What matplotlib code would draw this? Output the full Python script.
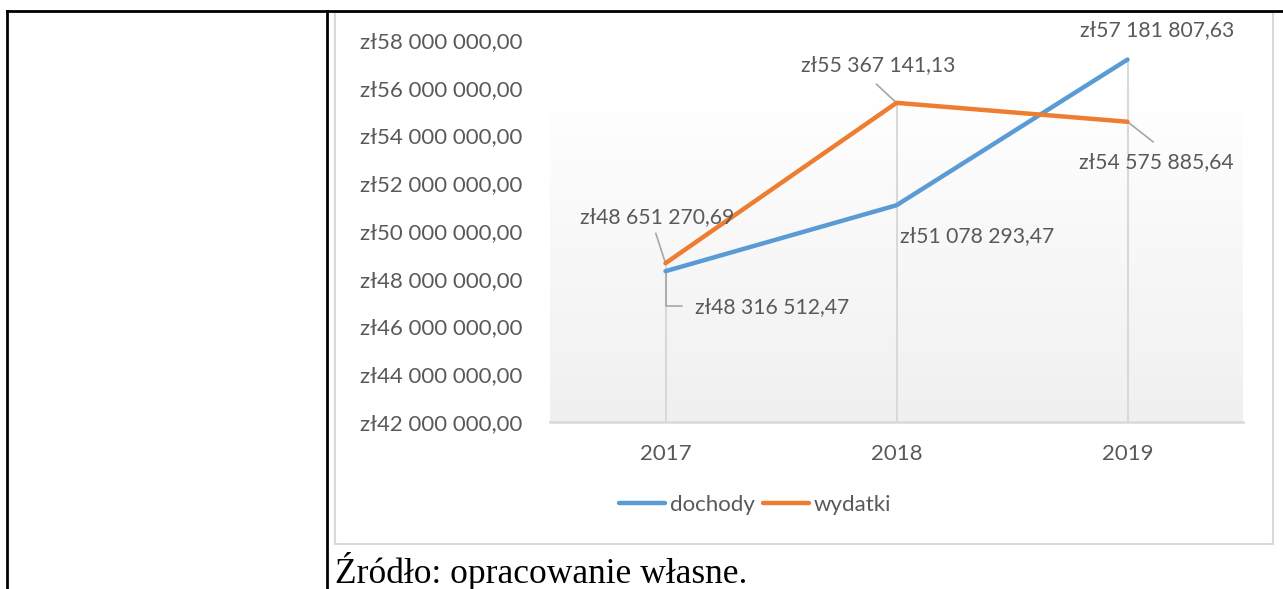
import numpy as np
import matplotlib.pyplot as plt
from matplotlib.patches import Rectangle
from matplotlib.lines import Line2D
from matplotlib.colors import LinearSegmentedColormap

# dane
lata = ['2017', '2018', '2019']
dochody = [48316512.47, 51078293.47, 57181807.63]
wydatki = [48651270.69, 55367141.13, 54575885.64]
yticks = np.arange(42000000, 58000001, 2000000)

W, H = 1283, 589
szary = '#595959'
niebieski = '#5B9BD5'
pomarancz = '#ED7D31'
fs = 16

plt.rcParams['font.family'] = ['Lato', 'DejaVu Sans']

def zl(v):
    s = '{:,.2f}'.format(v).replace(',', ' ').replace('.', ',')
    return 'zł' + s

fig = plt.figure(figsize=(W/100, H/100), dpi=100)

# ramki tabeli
def linia(x0, y0, x1, y1, **kw):
    fig.add_artist(Line2D([x0/W, x1/W], [1-y0/H, 1-y1/H], transform=fig.transFigure, **kw))

linia(7, 11, W, 11, color='black', lw=2)
linia(7, 11, 7, H, color='black', lw=2)
linia(327, 11, 327, H, color='black', lw=2)

# ramka wykresu
fig.add_artist(Rectangle((335/W, 1-544/H), (1273-335)/W, (544-12)/H,
                         transform=fig.transFigure, fill=False,
                         edgecolor='#D9D9D9', lw=1.5))

ax = fig.add_axes([550/W, 1-422/H, (1243-550)/W, (422-40)/H])
ax.patch.set_alpha(0)
x = np.arange(len(lata))
ax.set_xlim(-0.5, 2.5)
ax.set_ylim(yticks[0], yticks[-1])

# gradient tla
top_grad = yticks[0] + (422-91)/(422-40)*(yticks[-1]-yticks[0])
grad = np.linspace(0, 1, 256).reshape(-1, 1)
cmap = LinearSegmentedColormap.from_list('g', ['#FFFFFF', '#F0F0F0'])
ax.imshow(grad, cmap=cmap, extent=[-0.5, 2.5, yticks[0], top_grad],
          origin='upper', aspect='auto', zorder=0)

# linie pionowe
for i in x:
    ax.vlines(i, yticks[0], max(dochody[i], wydatki[i]), color='#D9D9D9', lw=1.5, zorder=1)

ax.plot(x, dochody, color=niebieski, lw=3.2, label='dochody', zorder=3, solid_capstyle='round')
ax.plot(x, wydatki, color=pomarancz, lw=3.2, label='wydatki', zorder=3, solid_capstyle='round')

for s in ['top', 'right', 'left']:
    ax.spines[s].set_visible(False)
ax.spines['bottom'].set_color('#D9D9D9')
ax.spines['bottom'].set_linewidth(1.8)
ax.spines['bottom'].set_zorder(2)

ax.set_xticks(x)
ax.set_xticklabels(lata)
ax.set_yticks(yticks)
ax.set_yticklabels([zl(v) for v in yticks])
ax.tick_params(axis='y', length=0, pad=20, labelsize=fs, labelcolor=szary)
ax.tick_params(axis='x', length=0, pad=16, labelsize=fs, labelcolor=szary)

# etykiety danych: (indeks, wartosc, przesuniecie tekstu, koniec linii odniesienia)
opis = [
    (0, dochody[0], (77, -26), (12, -25)),
    (0, wydatki[0], (-6, 33), (-7, 21.5)),
    (1, dochody[1], (58, -22), None),
    (1, wydatki[1], (-13, 27), (-14.5, 13.5)),
    (2, dochody[2], (21, 21), None),
    (2, wydatki[2], (21, -29), (18.5, -14.5)),
]
for xi, v, off, kon in opis:
    ax.annotate(zl(v), (xi, v), xytext=off, textcoords='offset points',
                ha='center', va='center', fontsize=15.2, color=szary, zorder=4)
    if kon is not None:
        cs = 'angle,angleA=0,angleB=90' if xi == 0 and v == dochody[0] else 'arc3'
        ax.annotate('', (xi, v), xytext=kon, textcoords='offset points',
                    arrowprops=dict(arrowstyle='-', color='#A6A6A6', lw=1.2,
                                    shrinkA=0, shrinkB=0, connectionstyle=cs),
                    zorder=2)

fig.legend(loc='center', bbox_to_anchor=(755/W, 1-505/H), ncol=2, frameon=False,
           fontsize=fs, labelcolor=szary, handlelength=2.1, handletextpad=0.2,
           columnspacing=0.35)

fig.text(335/W, 1-583/H, 'Źródło: opracowanie własne.', fontsize=25.5,
         family=['Liberation Serif', 'DejaVu Serif'], va='baseline', ha='left', color='black')

fig.savefig('out.png', dpi=100)
